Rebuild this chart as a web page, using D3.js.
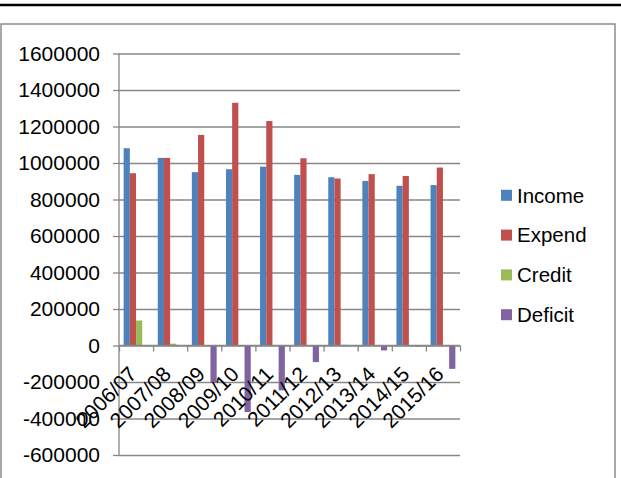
<!DOCTYPE html>
<html>
<head>
<meta charset="utf-8">
<script src="https://cdn.jsdelivr.net/npm/d3@7"></script>
<style>
  body { margin: 0; background: #fff; }
  svg { display: block; font-family: 'Liberation Sans', Arial, sans-serif; }
  .axis path { display: none; }
  .axis line { stroke: #878787; stroke-width: 1.3; }
  .axis text { font-size: 21px; fill: #000; }
</style>
</head>
<body>
<div id="chart"></div>
<script>
// data
var years = ['2006/07', '2007/08', '2008/09', '2009/10', '2010/11',
  '2011/12', '2012/13', '2013/14', '2014/15', '2015/16']
var income = [1081000, 1028000, 950000, 966000, 980000, 935000, 922000, 902000, 875000, 879000]
var expend = [944000, 1028000, 1154000, 1330000, 1230000, 1026000, 915000, 939000, 929000, 975000]
var credit = [137000, 10000, 0, 0, 0, 0, 4000, 0, 0, 0]
var deficit = [0, 0, -204000, -365000, -246000, -91000, 0, -27000, -5000, -128000]
var yTicks = [-600000, -400000, -200000, 0, 200000, 400000, 600000, 800000,
  1000000, 1200000, 1400000, 1600000]
var seriesNames = ['Income', 'Expend', 'Credit', 'Deficit']
var colors = ['#4f81bd', '#c0504d', '#9bbb59', '#8064a2']

var series = [income, expend, credit, deficit]

var svg = d3.select('#chart')
  .append('svg')
  .attr('width', 621)
  .attr('height', 478)

// top rule and chart frame
svg.append('line')
  .attr('x1', 0).attr('x2', 621)
  .attr('y1', 5).attr('y2', 5)
  .attr('stroke', '#000')
  .attr('stroke-width', 2.5)

svg.append('rect')
  .attr('x', 1).attr('y', 24)
  .attr('width', 614).attr('height', 470)
  .attr('fill', 'none')
  .attr('stroke', '#8c8c8c')
  .attr('stroke-width', 1.5)

var plotLeft = 119, plotRight = 460, plotTop = 53.5, plotBottom = 455

var yPositionScale = d3.scaleLinear()
  .domain([-600000, 1600000])
  .range([plotBottom, plotTop])

var xBand = d3.scaleBand()
  .domain(years)
  .range([plotLeft, plotRight])
  .padding(0)

var xIndex = d3.scaleLinear()
  .domain([0, years.length])
  .range([plotLeft, plotRight])

// gridlines
svg.append('g')
  .attr('class', 'axis grid')
  .attr('transform', 'translate(' + plotLeft + ',0)')
  .call(d3.axisLeft(yPositionScale).tickValues(yTicks)
    .tickSize(-(plotRight - plotLeft)).tickFormat(''))

// y axis with labels (plain hyphen for negatives)
svg.append('g')
  .attr('class', 'axis y-axis')
  .attr('transform', 'translate(' + plotLeft + ',0)')
  .call(d3.axisLeft(yPositionScale).tickValues(yTicks)
    .tickSize(6).tickPadding(13).tickFormat(d => String(d)))

svg.append('line')
  .attr('x1', plotLeft).attr('x2', plotLeft)
  .attr('y1', plotTop).attr('y2', plotBottom)
  .attr('stroke', '#878787')
  .attr('stroke-width', 1.3)

// bars
var bw = xBand.bandwidth() / 5.5
series.forEach(function(values, i) {
  svg.append('g')
    .selectAll('rect')
    .data(values)
    .enter()
    .append('rect')
    .attr('x', (d, j) => xBand(years[j]) + bw * (0.75 + i))
    .attr('width', bw)
    .attr('y', d => yPositionScale(Math.max(0, d)))
    .attr('height', d => Math.abs(yPositionScale(d) - yPositionScale(0)))
    .attr('fill', colors[i])
})

// x axis at zero, ticks between categories
svg.append('g')
  .attr('class', 'axis x-axis')
  .attr('transform', 'translate(0,' + yPositionScale(0) + ')')
  .call(d3.axisBottom(xIndex).tickValues(d3.range(years.length + 1))
    .tickSize(6).tickFormat(''))

svg.append('line')
  .attr('x1', plotLeft).attr('x2', plotRight)
  .attr('y1', yPositionScale(0)).attr('y2', yPositionScale(0))
  .attr('stroke', '#878787')
  .attr('stroke-width', 1.3)

// rotated category labels
svg.append('g')
  .selectAll('text')
  .data(years)
  .enter()
  .append('text')
  .text(d => d)
  .attr('font-size', 21)
  .attr('text-anchor', 'end')
  .attr('transform', d => 'translate(' + (xBand(d) + xBand.bandwidth() / 2 + 2) + ',' +
    (yPositionScale(0) + 30) + ') rotate(-45)')

// legend
var legend = svg.append('g')
  .selectAll('g')
  .data(seriesNames)
  .enter()
  .append('g')
  .attr('transform', (d, i) => 'translate(501,' + (195.3 + i * 39.8) + ')')

legend.append('rect')
  .attr('x', 0).attr('y', -5.5)
  .attr('width', 11).attr('height', 11)
  .attr('fill', (d, i) => colors[i])

legend.append('text')
  .text(d => d)
  .attr('x', 16)
  .attr('y', 7.3)
  .attr('font-size', 20.5)
</script>
</body>
</html>
